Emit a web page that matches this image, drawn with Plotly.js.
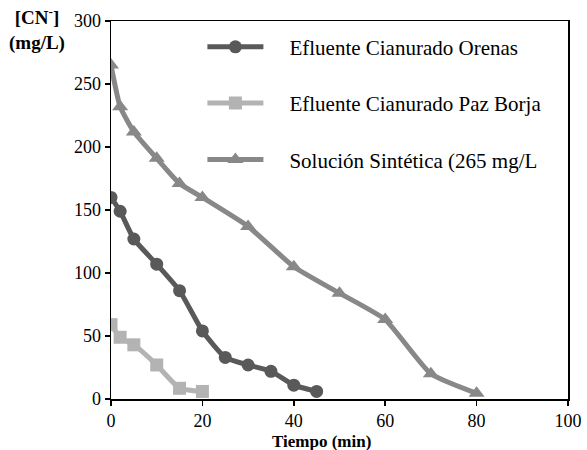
<!DOCTYPE html>
<html><head><meta charset="utf-8">
<script src="https://cdn.plot.ly/plotly-3.0.1.min.js"></script>
<style>body{margin:0;background:#fff}#c{width:587px;height:450px}</style>
</head><body><div id="c"></div>
<script>
const names = ["Efluente Cianurado Orenas", "Efluente Cianurado Paz Borja", "Solución Sintética (265 mg/L"];
const tOrenas = [0, 2, 5, 10, 15, 20, 25, 30, 35, 40, 45];
const cOrenas = [160, 149, 127, 107, 86, 54, 33, 27, 22, 11, 6];
const tPaz = [0, 2, 5, 10, 15, 20];
const cPaz = [59, 49, 43, 27, 8.5, 6];
const tSint = [0, 2, 5, 10, 15, 20, 30, 40, 50, 60, 70, 80];
const cSint = [265, 232, 212, 191, 171, 160, 137, 105, 84, 63, 20, 4.5];
const xTicks = [0, 20, 40, 60, 80, 100];
const yTicks = [0, 50, 100, 150, 200, 250, 300];

const colors = ["#595959", "#b3b3b3", "#888888"];
const symbols = ["circle", "square", "triangle-up"];
const xs = [tOrenas, tPaz, tSint], ys = [cOrenas, cPaz, cSint];
const pad = "\u00a0\u00a0\u00a0\u00a0";
const data = names.map((n, i) => ({
  x: xs[i], y: ys[i], name: pad + n, type: "scatter", mode: "lines+markers",
  legendgroup: "g" + i,
  line: {color: colors[i], width: 5, shape: "spline", smoothing: 0.5},
  marker: {color: colors[i], symbol: symbols[i], size: i === 2 ? 14 : 13}
}));
const font = "Liberation Serif, Times New Roman, serif";
const layout = {
  width: 587, height: 450,
  margin: {l: 111, r: 19, t: 21, b: 51},
  paper_bgcolor: "#fff", plot_bgcolor: "#fff",
  font: {family: font, color: "#000", size: 18},
  showlegend: true,
  legend: {x: 0.2, y: 0.985, xanchor: "left", yanchor: "top", bgcolor: "rgba(0,0,0,0)",
    font: {family: font, size: 21, color: "#000"}, tracegroupgap: 26, itemwidth: 56},
  xaxis: {range: [0, 100], tickvals: xTicks, ticktext: xTicks.map(String),
    showgrid: false, zeroline: false, showline: true, linecolor: "#000", linewidth: 1.5,
    mirror: true, ticks: "outside", ticklen: 5, tickcolor: "#000", tickwidth: 1.5,
    tickfont: {family: font, size: 18, color: "#000"}},
  yaxis: {range: [0, 300], tickvals: yTicks, ticktext: yTicks.map(String),
    showgrid: false, zeroline: false, showline: true, linecolor: "#000", linewidth: 1.5,
    mirror: true, ticks: "outside", ticklen: 5, tickcolor: "#000", tickwidth: 1.5,
    tickfont: {family: font, size: 18, color: "#000"}},
  annotations: [
    {text: "<b>Tiempo (min)</b>", xref: "paper", yref: "paper", x: 0.46, y: -0.113,
     xanchor: "center", yanchor: "middle", showarrow: false, font: {family: font, size: 17, color: "#000"}},
    {text: "<b>[CN<sup>-</sup>]</b><br><b>(mg/L)</b>", xref: "paper", yref: "paper",
     x: -0.228, y: 1.05, xanchor: "left", yanchor: "top", align: "center", showarrow: false,
     font: {family: font, size: 19, color: "#000"}}
  ]
};
Plotly.newPlot("c", data, layout, {displayModeBar: false, staticPlot: true});
</script></body></html>
